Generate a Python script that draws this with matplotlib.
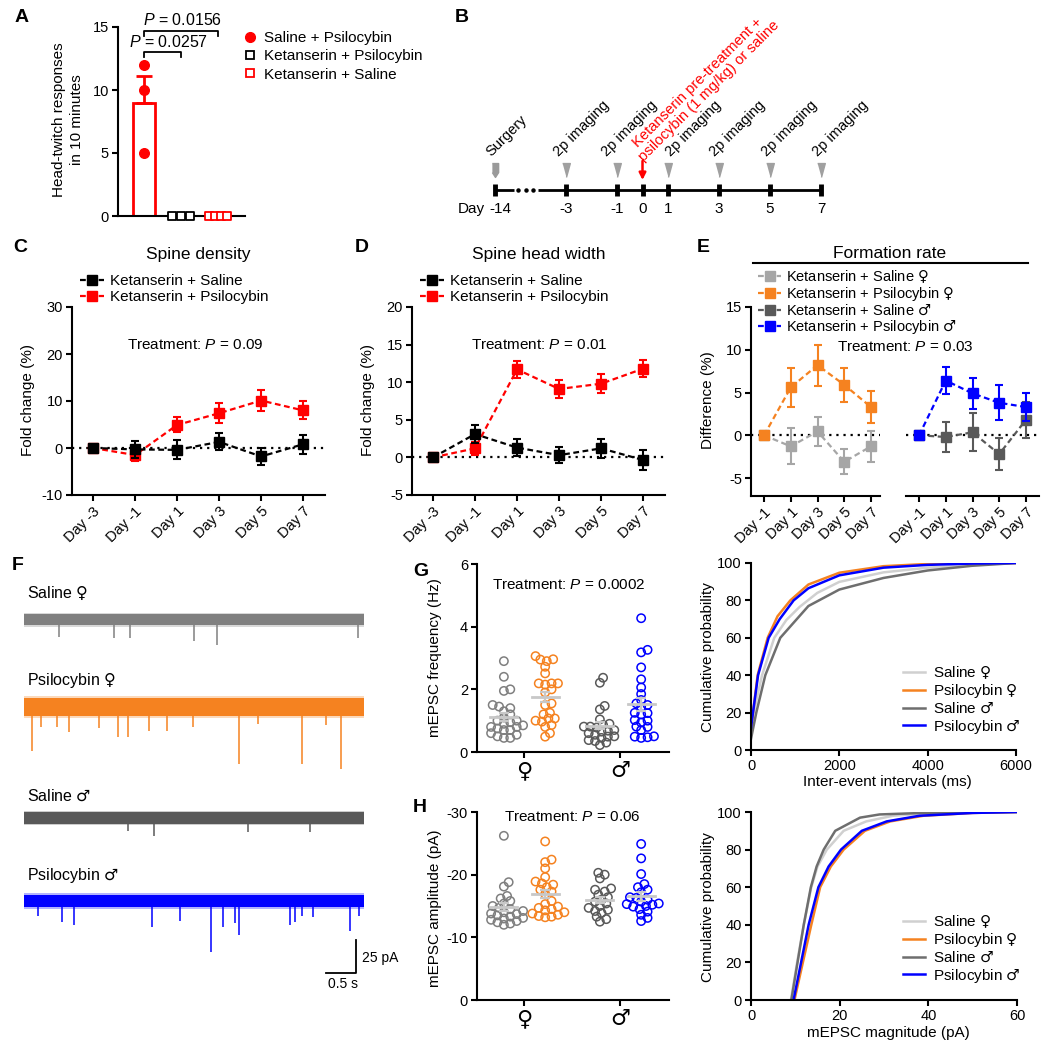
import numpy as np
import matplotlib
matplotlib.use('Agg')
import matplotlib.pyplot as plt
from matplotlib.lines import Line2D

plt.rcParams['font.family'] = ['Liberation Sans', 'DejaVu Sans']
plt.rcParams['mathtext.fontset'] = 'custom'
plt.rcParams['mathtext.it'] = 'Liberation Sans:italic'
plt.rcParams['mathtext.rm'] = 'Liberation Sans'
plt.rcParams['mathtext.sf'] = 'DejaVu Sans'
plt.rcParams['axes.unicode_minus'] = False
plt.rcParams['font.size'] = 10.5
plt.rcParams['axes.linewidth'] = 1.5
for _a in ('xtick', 'ytick'):
    plt.rcParams[_a + '.major.width'] = 1.5
    plt.rcParams[_a + '.major.size'] = 4
    plt.rcParams[_a + '.labelsize'] = 10.5
    plt.rcParams[_a + '.major.pad'] = 2.5

# ======================= DATA =======================
# A: head-twitch responses
htr_sal_psi = [12, 10, 5]
htr_ket_psi = [0, 0, 0]
htr_ket_sal = [0, 0, 0, 0]
htr_legend = ['Saline + Psilocybin', 'Ketanserin + Psilocybin', 'Ketanserin + Saline']
htr_pvals = ['0.0257', '0.0156']

# B: timeline
tl_days = [-14, -3, -1, 0, 1, 3, 5, 7]
tl_imaging_days = [-3, -1, 1, 3, 5, 7]
tl_surgery_day = -14
tl_treat_day = 0
tl_treat_text = 'Ketanserin pre-treatment +\npsilocybin (1 mg/kg) or saline'

# C, D
cd_days = ['Day -3', 'Day -1', 'Day 1', 'Day 3', 'Day 5', 'Day 7']
dens_sal = [0, -0.3, -0.4, 1.3, -1.8, 0.8]
dens_sal_err = [0, 1.8, 2.0, 1.8, 1.9, 2.0]
dens_psi = [0, -1.5, 4.9, 7.4, 10.1, 8.0]
dens_psi_err = [0, 1.2, 1.6, 2.1, 2.2, 1.9]
width_sal = [0, 3.1, 1.3, 0.3, 1.2, -0.35]
width_sal_err = [0, 1.2, 1.1, 1.1, 1.3, 1.3]
width_psi = [0, 1.2, 11.7, 9.1, 9.8, 11.8]
width_psi_err = [0, 0.9, 1.1, 1.2, 1.3, 1.1]

# E: formation rate
e_days = ['Day -1', 'Day 1', 'Day 3', 'Day 5', 'Day 7']
form_sal_f = [0, -1.3, 0.45, -3.1, -1.3]
form_sal_f_err = [0, 2.1, 1.7, 1.45, 1.8]
form_psi_f = [0, 5.6, 8.2, 5.9, 3.3]
form_psi_f_err = [0, 2.3, 2.4, 2.0, 1.85]
form_sal_m = [0, -0.2, 0.35, -2.2, 1.8]
form_sal_m_err = [0, 1.75, 2.2, 1.9, 2.1]
form_psi_m = [0, 6.4, 4.9, 3.8, 3.3]
form_psi_m_err = [0, 1.6, 1.8, 2.05, 1.65]
e_legend = ['Ketanserin + Saline ♀', 'Ketanserin + Psilocybin ♀',
            'Ketanserin + Saline ♂', 'Ketanserin + Psilocybin ♂']

# F: example traces (events: time in s, amplitude in pA)
trace_labels = ['Saline ♀', 'Psilocybin ♀', 'Saline ♂', 'Psilocybin ♂']
trace_duration_s = 5.67
trace_noise_pA = [4.2, 6.5, 4.2, 4.8]
ev_sal_f_t = [0.58, 1.50, 1.77, 2.83, 3.22, 5.57]
ev_sal_f_a = [13, 14, 14, 16, 19, 14]
ev_psi_f_t = [0.13, 0.29, 0.55, 0.75, 1.25, 1.57, 1.74, 2.09, 2.39, 2.81, 3.59, 3.90, 4.64, 5.03, 5.28]
ev_psi_f_a = [33, 15, 15, 19, 16, 23, 23, 18, 18, 15, 43, 13, 43, 14, 47]
ev_sal_m_t = [1.74, 2.16, 3.73, 4.77]
ev_sal_m_a = [10, 14, 11, 11]
ev_psi_m_t = [0.23, 0.64, 0.83, 2.14, 2.60, 3.12, 3.32, 3.52, 3.58, 4.43, 4.52, 4.64, 4.82, 5.43, 5.58]
ev_psi_m_a = [11, 16, 18, 20, 15, 39, 20, 17, 26, 18, 16, 11, 12, 23, 11]

# G: mEPSC frequency (Hz)
freq_sal_f = [2.9, 2.4, 2.0, 1.95, 1.5, 1.45, 1.4, 1.3, 1.2, 1.1, 1.0, 1.0, 0.95, 0.9,
              0.85, 0.8, 0.8, 0.75, 0.7, 0.7, 0.6, 0.55, 0.5, 0.45, 0.45]
freq_psi_f = [3.06, 2.96, 2.95, 2.9, 2.72, 2.51, 2.19, 2.19, 2.19, 2.15, 2.0, 1.9,
              1.55, 1.5, 1.25, 1.2, 1.07, 1.07, 1.0, 0.97, 0.86, 0.8, 0.6, 0.49]
freq_sal_m = [2.37, 2.21, 1.47, 1.36, 1.04, 0.9, 0.86, 0.81, 0.81, 0.78, 0.7, 0.68,
              0.65, 0.6, 0.55, 0.5, 0.49, 0.45, 0.38, 0.35, 0.3, 0.22]
freq_psi_m = [4.27, 3.26, 3.18, 2.7, 2.32, 2.06, 1.85, 1.66, 1.55, 1.5, 1.43, 1.25,
              1.24, 1.2, 1.02, 1.0, 0.94, 0.81, 0.8, 0.7, 0.5, 0.49, 0.47, 0.45]

# H: mEPSC amplitude (pA, negative currents)
amp_sal_f = [26.2, 18.8, 18.1, 16.6, 16.2, 15.8, 15.4, 15.0, 14.7, 14.5, 14.2, 14.0,
             13.8, 13.7, 13.5, 13.3, 13.1, 13.0, 12.8, 12.6, 12.4, 12.2, 12.0]
amp_psi_f = [25.3, 22.4, 22.0, 21.0, 19.6, 18.9, 18.6, 18.4, 18.0, 17.6, 17.3, 16.9,
             15.8, 15.3, 14.9, 14.7, 14.5, 14.3, 14.0, 13.8, 13.6, 13.4, 13.3, 13.2]
amp_sal_m = [20.3, 20.0, 19.4, 17.8, 17.6, 17.3, 16.8, 16.4, 16.0, 15.7, 15.4, 15.0,
             14.7, 14.4, 14.2, 13.9, 13.3, 12.9, 12.5]
amp_psi_m = [24.9, 22.6, 20.1, 18.5, 18.0, 17.6, 17.2, 16.4, 16.3, 16.0, 15.7, 15.4,
             15.3, 15.2, 15.0, 14.9, 14.5, 14.1, 13.6, 13.1, 12.6]
sex_labels = ['♀', '♂']

# Cumulative distributions
cum_labels = ['Saline ♀', 'Psilocybin ♀', 'Saline ♂', 'Psilocybin ♂']
iei_sal_f_x = [0, 60, 250, 527, 800, 1100, 1500, 2000, 3000, 4000, 5000, 6000]
iei_sal_f_y = [9, 20, 40, 60, 69.5, 76.5, 84, 89.9, 95, 97.5, 99, 100]
iei_psi_f_x = [0, 45, 150, 377, 600, 890, 1300, 2000, 3000, 4000, 5000, 6000]
iei_psi_f_y = [12, 20, 40, 60, 71.5, 80, 88.5, 94.8, 98.3, 99.5, 99.9, 100]
iei_sal_m_x = [0, 120, 324, 663, 1000, 1300, 2000, 3000, 4000, 5000, 6000]
iei_sal_m_y = [6, 20, 40, 60, 69, 77, 85.8, 92, 96, 98.5, 100]
iei_psi_m_x = [0, 45, 160, 400, 650, 965, 1300, 2000, 3000, 4000, 5000, 6000]
iei_psi_m_y = [12, 20, 40, 60, 70, 80, 86.5, 93.4, 97.5, 99, 99.7, 100]

mag_sal_f_x = [9.0, 10.4, 11.9, 13.6, 15.0, 17.1, 20.9, 26, 32, 40, 60]
mag_sal_f_y = [0, 20, 40, 60, 71, 80, 90, 95, 98, 99.3, 100]
mag_psi_f_x = [9.8, 11.7, 13.6, 15.6, 18.0, 20.9, 25.7, 31.4, 38.9, 50, 60]
mag_psi_f_y = [0, 20, 40, 60, 71, 80, 90, 95, 98, 99.5, 100]
mag_sal_m_x = [9.1, 10.5, 11.9, 13.5, 14.8, 16.4, 19.0, 24.6, 29, 40, 60]
mag_sal_m_y = [0, 20, 40, 60, 71, 80, 90, 97, 98.7, 99.6, 100]
mag_psi_m_x = [9.6, 11.3, 13.0, 15.2, 17.5, 20.3, 25, 30.6, 38, 50, 60]
mag_psi_m_y = [0, 20, 40, 60, 71, 80, 90, 95, 98, 99.5, 100]

# colours
RED = '#ff0000'
ORANGE = '#f58220'
BLUE = '#0000ff'
LGRAY = '#a6a6a6'
DGRAY = '#595959'


def sym(s):
    """render the sex symbols with DejaVu Sans (larger glyphs, like the original)"""
    return s.replace('♀', r'$\mathsf{♀}$').replace('♂', r'$\mathsf{♂}$')


# ======================= FIGURE =======================
W, H = 1050, 1049
fig = plt.figure(figsize=(W / 100, H / 100), dpi=100)


def add_ax(l, t, r, b):
    return fig.add_axes([l / W, 1 - b / H, (r - l) / W, (b - t) / H])


def P(x, y):
    return (x / W, 1 - y / H)


def letter(x, y, s):
    fig.text(x / W, 1 - y / H, s, fontsize=14, fontweight='bold', ha='left', va='center')


def clean(ax, left=True):
    ax.spines['top'].set_visible(False)
    ax.spines['right'].set_visible(False)
    if not left:
        ax.spines['left'].set_visible(False)
        ax.tick_params(axis='y', left=False, labelleft=False)


def ylabel_at(ax, text, xc, yc, **kw):
    ax.set_ylabel(text, **kw)
    ax.yaxis.set_label_coords(xc / W, 1 - yc / H, transform=fig.transFigure)
    ax.yaxis.label.set_va('center')
    ax.yaxis.label.set_ha('center')


def xlabel_at(ax, text, xc, yc, **kw):
    ax.set_xlabel(text, **kw)
    ax.xaxis.set_label_coords(xc / W, 1 - yc / H, transform=fig.transFigure)
    ax.xaxis.label.set_va('center')


DASH = (0, (2.6, 1.6))
DOT = (0, (1, 2.2))

# ---------------- A ----------------
axA = add_ax(118, 27, 245, 216)
mA = np.mean(htr_sal_psi)
sA = np.std(htr_sal_psi, ddof=1) / np.sqrt(len(htr_sal_psi))
axA.bar(0, mA, width=0.6, facecolor='white', edgecolor=RED, lw=2, zorder=2)
axA.errorbar(0, mA, yerr=[[0], [sA]], color=RED, capsize=6, capthick=2, elinewidth=2, zorder=2)
axA.scatter(np.zeros(len(htr_sal_psi)), htr_sal_psi, s=48, color=RED, zorder=3)


def spread(n, step):
    return (np.arange(n) - (n - 1) / 2) * step


axA.scatter(1 + spread(len(htr_ket_psi), 0.24), htr_ket_psi, marker='s', s=28,
            facecolor='white', edgecolor='black', lw=1.3, zorder=3, clip_on=False)
axA.scatter(2 + spread(len(htr_ket_sal), 0.17), htr_ket_sal, marker='s', s=28,
            facecolor='white', edgecolor=RED, lw=1.3, zorder=3, clip_on=False)
axA.set_xlim(-0.7, 2.73)
axA.set_ylim(0, 15)
axA.set_yticks([0, 5, 10, 15])
axA.set_xticks([])
clean(axA)
for (x0, x1, yb, tx, ty, pv) in [(0, 1, 13.0, 0.65, 13.15, htr_pvals[0]),
                                 (0, 2, 14.7, 1.03, 14.95, htr_pvals[1])]:
    axA.plot([x0, x0, x1, x1], [yb - 0.4, yb, yb, yb - 0.4], color='k', lw=1.3, clip_on=False)
    axA.text(tx, ty, '$P$ = ' + pv, ha='center', va='bottom', fontsize=11.5, clip_on=False)
ylabel_at(axA, 'Head-twitch responses\nin 10 minutes', 68, 120, fontsize=11, linespacing=1.3)
hA = [Line2D([], [], ls='none', marker='o', color=RED, ms=7),
      Line2D([], [], ls='none', marker='s', mfc='white', mec='black', ms=5.5, mew=1.3),
      Line2D([], [], ls='none', marker='s', mfc='white', mec=RED, ms=5.5, mew=1.3)]
axA.legend(hA, htr_legend, loc='upper left', bbox_to_anchor=P(244, 31), bbox_transform=fig.transFigure,
           frameon=False, fontsize=11, handlelength=0.8, handletextpad=0.5, labelspacing=0.28,
           borderpad=0, borderaxespad=0)
letter(15, 17, 'A')

# ---------------- B ----------------
axB = add_ax(470, 0, 1050, 230)
axB.set_xlim(-6.765, 15.98)
axB.set_ylim(230, 0)
axB.axis('off')


def tl_pos(d):
    return d if d >= -3 else -5.78


yl = 190
axB.plot([tl_pos(-14), -5.05], [yl, yl], color='k', lw=2, solid_capstyle='butt')
axB.plot([-4.88, -4.58, -4.28], [yl] * 3, ls='none', marker='o', ms=2.2, color='k')
axB.plot([-4.1, 7], [yl, yl], color='k', lw=2, solid_capstyle='butt')
axB.vlines([tl_pos(d) for d in tl_days], yl - 6, yl + 6, color='k', lw=3.5)
tri = [(-0.55, 1), (0.55, 1), (0, -1)]
axB.plot(tl_imaging_days, [170] * len(tl_imaging_days), ls='none', marker=tri, ms=10,
         color='#a0a0a0', mec='#a0a0a0')
pent = [(-0.45, 1), (0.45, 1), (0.45, -0.3), (0, -1), (-0.45, -0.3)]
axB.plot([tl_pos(tl_surgery_day)], [170], ls='none', marker=pent, ms=10, color='#9a9a9a', mec='#9a9a9a')
axB.annotate('', xy=(tl_treat_day, 180), xytext=(tl_treat_day, 161),
             arrowprops=dict(arrowstyle='-|>', color=RED, lw=1.8, mutation_scale=10, shrinkA=0, shrinkB=0))
axB.text(tl_pos(tl_surgery_day) - 0.16, 157, 'Surgery', rotation=45, rotation_mode='anchor',
         ha='left', va='baseline', fontsize=10.5)
label_shift = {-3: -0.27, -1: -0.4, 1: 0.1, 3: -0.16, 5: -0.12, 7: -0.12}
for d in tl_imaging_days:
    axB.text(d + label_shift[d], 157, '2p imaging', rotation=45, rotation_mode='anchor',
             ha='left', va='baseline', fontsize=10.5)
for k, (line, dx, y) in enumerate(zip(tl_treat_text.split('\n'), [-0.2, 0.07], [148, 162])):
    axB.text(tl_treat_day + dx, y, line, rotation=45, rotation_mode='anchor',
             ha='left', va='baseline', fontsize=10.6, color=RED)
for d in tl_days:
    axB.text(tl_pos(d) + (0.2 if d == -14 else 0), 209, str(d), ha='center', va='center', fontsize=11)
axB.text(-6.2, 209, 'Day', ha='right', va='center', fontsize=11)
letter(455, 17, 'B')


# ---------------- C, D ----------------
def series(ax, x, y, e, color, z=3):
    ax.errorbar(x, y, yerr=e, color=color, ls=DASH, lw=1.6, marker='s', ms=6.5,
                capsize=3, capthick=1.5, elinewidth=1.5, zorder=z)


def legend_series(ax, colors, labels, x, y, fs=10.5, ls=0.22):
    hs = [Line2D([], [], color=c, ls=DASH, lw=1.6, marker='s', ms=6.5) for c in colors]
    ax.legend(hs, [sym(t) for t in labels], loc='upper left', bbox_to_anchor=P(x, y),
              bbox_transform=fig.transFigure, frameon=False, fontsize=fs, handlelength=1.6,
              handletextpad=0.35, labelspacing=ls, borderpad=0, borderaxespad=0)


def day_axis(ax, labels):
    ax.set_xticks(np.arange(len(labels)))
    ax.set_xticklabels(labels, rotation=45, ha='right', rotation_mode='anchor')


x6 = np.arange(len(cd_days))
for (l, r, title, tx, sal, sale, psi, psie, ylim, yt, pv, lx) in [
        (72, 325, 'Spine density', 190, dens_sal, dens_sal_err, dens_psi, dens_psi_err,
         (-10, 30), [-10, 0, 10, 20, 30], '0.09', 28),
        (412, 665, 'Spine head width', 534, width_sal, width_sal_err, width_psi, width_psi_err,
         (-5, 20), [-5, 0, 5, 10, 15, 20], '0.01', 368)]:
    ax = add_ax(l, 307, r, 495)
    ax.axhline(0, color='k', ls=DOT, lw=1.6, zorder=1)
    series(ax, x6, psi, psie, RED, 3)
    series(ax, x6, sal, sale, 'black', 4)
    ax.set_xlim(-0.5, 5.52)
    ax.set_ylim(*ylim)
    ax.set_yticks(yt)
    day_axis(ax, cd_days)
    clean(ax)
    ylabel_at(ax, 'Fold change (%)', lx, 400, fontsize=11)
    fig.text((l + r) / 2 / W, 1 - 255 / H, title, fontsize=12.5, ha='center', va='center')
    fig.text((tx + 5) / W, 1 - 345 / H, 'Treatment: $P$ = ' + pv, fontsize=11, ha='center', va='center')
    legend_series(ax, ['black', RED], ['Ketanserin + Saline', 'Ketanserin + Psilocybin'], l + 8, 274,
                  fs=11, ls=0.16)
letter(13, 247, 'C')
letter(355, 247, 'D')

# ---------------- E ----------------
x5 = np.arange(len(e_days))
axE1 = add_ax(751, 307, 880, 496)
axE2 = add_ax(906, 307, 1039, 496)
for ax, xr in [(axE1, 4.34), (axE2, 4.49)]:
    ax.axhline(0, color='k', ls=DOT, lw=1.6, zorder=1)
    ax.set_xlim(-0.49, xr)
    ax.set_ylim(-7.1, 15)
    ax.set_yticks([-5, 0, 5, 10, 15])
    day_axis(ax, e_days)
series(axE1, x5, form_sal_f, form_sal_f_err, LGRAY, 3)
series(axE1, x5, form_psi_f, form_psi_f_err, ORANGE, 4)
series(axE2, x5, form_sal_m, form_sal_m_err, DGRAY, 3)
series(axE2, x5, form_psi_m, form_psi_m_err, BLUE, 4)
clean(axE1)
clean(axE2, left=False)
ylabel_at(axE1, 'Difference (%)', 708, 400, fontsize=11)
fig.text(890 / W, 1 - 253 / H, 'Formation rate', fontsize=12.5, ha='center', va='center')
fig.add_artist(Line2D([753 / W, 1028 / W], [1 - 263 / H] * 2, color='k', lw=1.5))
fig.text(905 / W, 1 - 347 / H, 'Treatment: $P$ = 0.03', fontsize=11, ha='center', va='center')
legend_series(axE2, [LGRAY, ORANGE, DGRAY, BLUE], e_legend, 758, 268, fs=10.5, ls=0.02)
letter(697, 247, 'E')

# ---------------- F ----------------
axF = add_ax(0, 560, 400, 1049)
axF.set_xlim(-0.4, 6.267)
axF.set_ylim(-37.1, 333.3)
axF.axis('off')
trace_base = [287.9, 222.0, 137.9, 75.0]
trace_cols = ['#808080', ORANGE, DGRAY, BLUE]
label_y = [307.6, 241.7, 154.5, 94.0]
events = [(ev_sal_f_t, ev_sal_f_a), (ev_psi_f_t, ev_psi_f_a), (ev_sal_m_t, ev_sal_m_a), (ev_psi_m_t, ev_psi_m_a)]
for i in range(4):
    b = trace_base[i]
    n = trace_noise_pA[i]
    c = trace_cols[i]
    axF.fill_between([0, trace_duration_s], b - 1.3 * n, b + 1.3 * n, color=c, lw=0, alpha=0.3)
    axF.fill_between([0, trace_duration_s], b - n, b + n, color=c, lw=0)
    et, ea = events[i]
    axF.vlines(et, b - n + 1, b - np.asarray(ea), color=c, lw=1.1)
    axF.text(0.05, label_y[i], sym(trace_labels[i]), fontsize=11.5, ha='left', va='center')
axF.plot([5.03, 5.53, 5.53], [20.5, 20.5, 45.5], color='k', lw=1.3)
axF.text(5.63, 31.8, '25 pA', fontsize=10, ha='left', va='center')
axF.text(5.32, 12.0, '0.5 s', fontsize=10, ha='center', va='center')
letter(12, 565, 'F')


# ---------------- G, H ----------------
def swarm(vals, xppu, yppu, d=8.0, mind=0.72):
    v = np.asarray(vals, float)
    order = np.argsort(v)
    pts = []
    off = np.zeros(len(v))
    cands = [0.0]
    for k in range(1, 80):
        cands += [k * d * 0.2, -k * d * 0.2]
    for i in order:
        y = v[i] * yppu
        for c in cands:
            if all((c - px) ** 2 + (y - py) ** 2 >= (mind * d) ** 2 for px, py in pts):
                break
        pts.append((c, y))
        off[i] = c / xppu
    return off


def dotplot(ax, groups, yppu, sign=1):
    pos = [-0.21, 0.22, 0.79, 1.22]
    cols = ['#7f7f7f', ORANGE, DGRAY, BLUE]
    for g, p, c in zip(groups, pos, cols):
        v = np.asarray(g, float)
        off = swarm(v, 96.0, yppu)
        ax.scatter(p + off, sign * v, s=36, facecolor='none', edgecolor=c, lw=1.1, zorder=3)
        m = v.mean()
        se = v.std(ddof=1) / np.sqrt(len(v))
        ax.plot([p - 0.14, p + 0.14], [sign * m] * 2, color='#c8c8c8', lw=2, zorder=4)
        ax.errorbar(p, sign * m, yerr=se, color='#c8c8c8', capsize=3.5, capthick=1.6, elinewidth=1.6, zorder=4)
    ax.set_xlim(-0.49, 1.51)
    ax.set_xticks([0, 1])
    ax.set_xticklabels(sex_labels, fontsize=16, family='DejaVu Sans')
    clean(ax)


axG = add_ax(477, 564, 669, 752)
dotplot(axG, [freq_sal_f, freq_psi_f, freq_sal_m, freq_psi_m], 31.33)
axG.set_ylim(0, 6)
axG.set_yticks([0, 2, 4, 6])
ylabel_at(axG, 'mEPSC frequency (Hz)', 435, 658, fontsize=11)
fig.text(569 / W, 1 - 585 / H, 'Treatment: $P$ = 0.0002', fontsize=11, ha='center', va='center')
letter(413, 572, 'G')

axH = add_ax(477, 812, 669, 1000)
dotplot(axH, [amp_sal_f, amp_psi_f, amp_sal_m, amp_psi_m], 6.27, sign=-1)
axH.set_ylim(0, -30)
axH.set_yticks([0, -10, -20, -30])
ylabel_at(axH, 'mEPSC amplitude (pA)', 435, 908, fontsize=11)
fig.text(572 / W, 1 - 817 / H, 'Treatment: $P$ = 0.06', fontsize=11, ha='center', va='center')
letter(413, 808, 'H')

# ---------------- cumulative ----------------
cum_cols = ['#d0d0d0', ORANGE, '#6e6e6e', BLUE]
axI = add_ax(751, 563, 1016, 750)
for (x, y), c in zip([(iei_sal_f_x, iei_sal_f_y), (iei_psi_f_x, iei_psi_f_y),
                      (iei_sal_m_x, iei_sal_m_y), (iei_psi_m_x, iei_psi_m_y)], cum_cols):
    axI.plot(x, y, color=c, lw=1.8)
axI.set_xlim(0, 6000)
axI.set_ylim(0, 100)
axI.set_xticks([0, 2000, 4000, 6000])
axI.set_yticks([0, 20, 40, 60, 80, 100])
clean(axI)
ylabel_at(axI, 'Cumulative probability', 708, 657, fontsize=11)
xlabel_at(axI, 'Inter-event intervals (ms)', 887, 782, fontsize=11)

axJ = add_ax(751, 812, 1017, 1000)
for (x, y), c in zip([(mag_sal_f_x, mag_sal_f_y), (mag_psi_f_x, mag_psi_f_y),
                      (mag_sal_m_x, mag_sal_m_y), (mag_psi_m_x, mag_psi_m_y)], cum_cols):
    axJ.plot(x, y, color=c, lw=1.8)
axJ.set_xlim(0, 60)
axJ.set_ylim(0, 100)
axJ.set_xticks([0, 20, 40, 60])
axJ.set_yticks([0, 20, 40, 60, 80, 100])
clean(axJ)
ylabel_at(axJ, 'Cumulative probability', 708, 907, fontsize=11)
xlabel_at(axJ, 'mEPSC magnitude (pA)', 888, 1033, fontsize=11)

for ax, ytop in [(axI, 664), (axJ, 913)]:
    hs = [Line2D([], [], color=c, lw=1.8) for c in cum_cols]
    ax.legend(hs, [sym(t) for t in cum_labels], loc='upper left', bbox_to_anchor=P(903, ytop),
              bbox_transform=fig.transFigure, frameon=False, fontsize=11, handlelength=1.45,
              handletextpad=0.5, labelspacing=0.1, borderpad=0, borderaxespad=0)

fig.savefig('out.png', dpi=100)
